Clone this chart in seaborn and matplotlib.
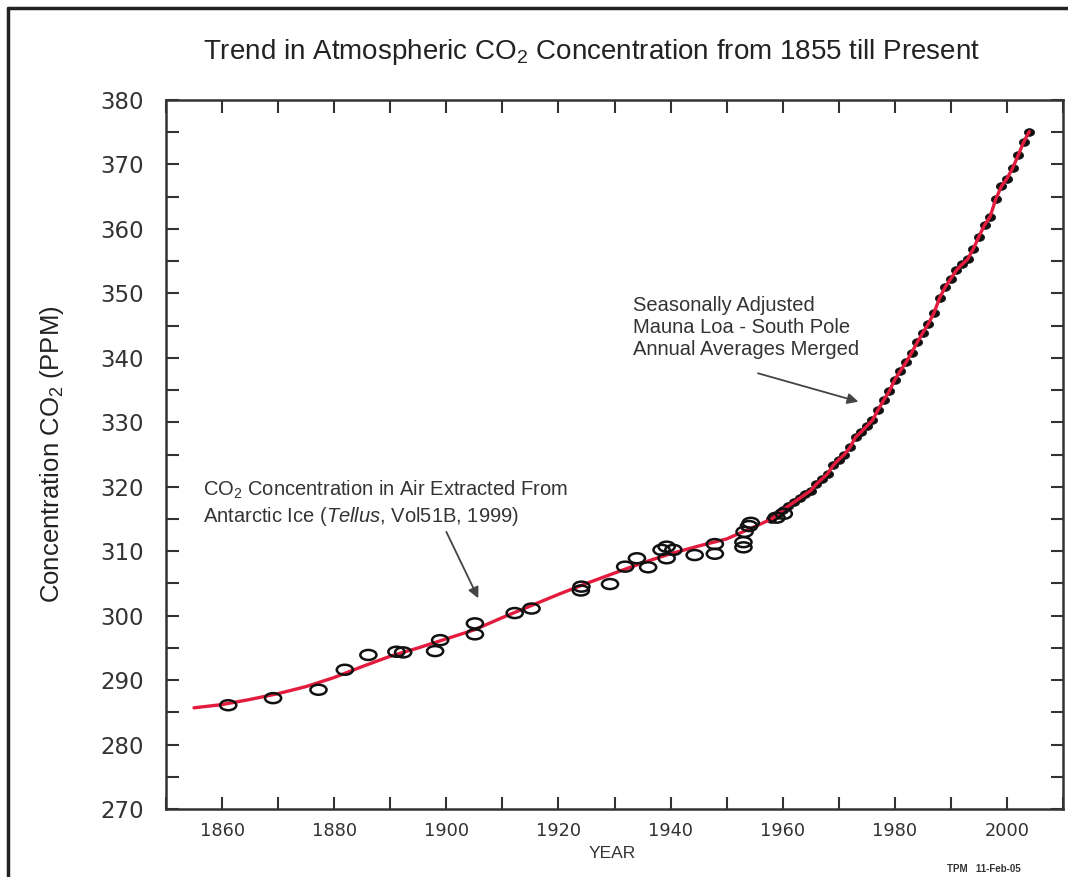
import numpy as np
import pandas as pd
import matplotlib
matplotlib.use("Agg")
import matplotlib.pyplot as plt
import seaborn as sns
from matplotlib.path import Path
from matplotlib.transforms import Affine2D
from matplotlib.lines import Line2D
from matplotlib.ticker import MultipleLocator

# ---------------- data ----------------
# Law Dome ice-core samples (open circles)
ice_years = [1861.1, 1869.1, 1877.2, 1881.9, 1886.1, 1891.1, 1892.3, 1898.0,
             1898.9, 1905.1, 1905.1, 1912.2, 1915.2, 1924.0, 1924.1, 1929.2,
             1931.9, 1934.0, 1936.0, 1938.4, 1939.3, 1939.3, 1940.5, 1944.3,
             1947.9, 1947.9, 1953.0, 1953.0, 1953.2, 1954.0, 1954.3, 1958.9,
             1960.2]
ice_ppm = [286.1, 287.2, 288.5, 291.6, 293.9, 294.4, 294.3, 294.5,
           296.2, 298.8, 297.1, 300.4, 301.1, 303.9, 304.5, 304.9,
           307.6, 308.9, 307.5, 310.2, 310.7, 308.9, 310.2, 309.4,
           311.1, 309.6, 310.6, 311.4, 313.0, 313.9, 314.4, 315.2,
           315.8]

# smoothed ice-core trend (red line, pre-instrumental part)
fit_years = [1855, 1860, 1865, 1870, 1875, 1880, 1885, 1890, 1895, 1900,
             1905, 1910, 1915, 1920, 1925, 1930, 1935, 1940, 1945, 1950, 1955]
fit_ppm = [285.7, 286.2, 287.0, 287.9, 289.0, 290.4, 292.1, 293.7, 295.0, 296.4,
           297.8, 299.7, 301.5, 303.3, 305.0, 306.6, 308.2, 309.6, 310.8, 311.9, 313.8]

# Mauna Loa - South Pole merged annual averages (black dots)
ml_years = list(range(1958, 2005))
ml_ppm = [315.0, 315.6, 316.4, 317.0, 317.6, 318.2, 318.8, 319.4, 320.4, 321.2,
          322.0, 323.3, 324.2, 325.0, 326.1, 327.7, 328.5, 329.4, 330.3, 331.9,
          333.4, 334.8, 336.6, 338.0, 339.3, 340.8, 342.4, 343.9, 345.3, 347.0,
          349.3, 351.0, 352.3, 353.6, 354.5, 355.3, 356.9, 358.8, 360.6, 361.9,
          364.6, 366.6, 367.8, 369.4, 371.4, 373.5, 375.1]

x_ticks = [1860, 1880, 1900, 1920, 1940, 1960, 1980, 2000]
y_ticks = [270, 280, 290, 300, 310, 320, 330, 340, 350, 360, 370, 380]

ice_df = pd.DataFrame({"year": ice_years, "ppm": ice_ppm})
ml_df = pd.DataFrame({"year": ml_years, "ppm": ml_ppm})
trend_df = pd.DataFrame({"year": fit_years + ml_years, "ppm": fit_ppm + ml_ppm})

# ---------------- style ----------------
sns.set_style("ticks")
plt.rcParams["font.family"] = ["Liberation Sans", "DejaVu Sans"]
plt.rcParams["mathtext.fontset"] = "custom"
plt.rcParams["mathtext.rm"] = "Liberation Sans"
plt.rcParams["mathtext.it"] = "Liberation Sans:italic"
plt.rcParams["mathtext.bf"] = "Liberation Sans:bold"

fig = plt.figure(figsize=(10.68, 8.77), dpi=100)
fig.patch.set_facecolor("white")
ax = fig.add_axes([166 / 1068, 1 - 809 / 877, (1063 - 166) / 1068, (809 - 100) / 877])

# elliptical markers (wider than tall, as in the reference)
ellipse = Path.unit_circle().transformed(Affine2D().scale(1.0, 0.62))
dot = Path.unit_circle().transformed(Affine2D().scale(1.0, 0.75))

sns.scatterplot(data=ml_df, x="year", y="ppm", ax=ax, marker=dot, s=55,
                color="#111111", edgecolor="#111111", linewidth=0.5, zorder=3)
sns.lineplot(data=trend_df, x="year", y="ppm", ax=ax, color="#e31b3d",
             linewidth=2.4, zorder=4, sort=True)
sns.scatterplot(data=ice_df, x="year", y="ppm", ax=ax, marker=ellipse, s=135,
                facecolor="none", edgecolor="#111111", linewidth=1.8, zorder=5)

ax.set_xlim(1850, 2010)
ax.set_ylim(270, 380)
ax.set_xticks(x_ticks)
ax.set_yticks(y_ticks)
ax.xaxis.set_minor_locator(MultipleLocator(10))
ax.yaxis.set_minor_locator(MultipleLocator(5))
ax.tick_params(which="both", direction="in", top=True, right=True,
               length=9, width=1.5, color="#333333")
ax.tick_params(axis="x", which="major", labelsize=12.8, pad=9, labelcolor="#333333")
ax.tick_params(axis="y", which="major", labelsize=16.5, pad=16, labelcolor="#333333")
for lab in ax.get_xticklabels() + ax.get_yticklabels():
    lab.set_family("DejaVu Sans")
for sp in ax.spines.values():
    sp.set_visible(True)
    sp.set_linewidth(1.8)
    sp.set_color("#333333")
ax.set_xlabel("")
ax.set_ylabel("")

# titles / axis labels
fig.text(591.5 / 1068, 1 - 52 / 877,
         "Trend in Atmospheric CO$_2$ Concentration from 1855 till Present",
         ha="center", va="center", fontsize=20, color="#222222")
fig.text(52 / 1068, 1 - 454.5 / 877, "Concentration CO$_2$ (PPM)",
         rotation=90, ha="center", va="center", fontsize=18.5, color="#222222")
fig.text(612 / 1068, 1 - 853 / 877, "YEAR", ha="center", va="center",
         fontsize=12.5, color="#333333")
fig.text(984 / 1068, 1 - 869 / 877, "TPM   11-Feb-05", ha="center", va="center",
         fontsize=7, fontweight="bold", color="#333333")

# annotations
ax.text(1856.65, 317.4,
        "CO$_2$ Concentration in Air Extracted From\n"
        "Antarctic Ice ($\\it{Tellus}$, Vol51B, 1999)",
        ha="left", va="center", fontsize=14.5, color="#333333", linespacing=1.2)
ax.annotate("", xy=(1905.7, 302.7), xytext=(1900.0, 313.0),
            arrowprops=dict(arrowstyle="-|>", color="#444444", lw=1.3,
                            mutation_scale=16, shrinkA=0, shrinkB=0))
ax.text(1933.3, 344.7,
        "Seasonally Adjusted\nMauna Loa - South Pole\nAnnual Averages Merged",
        ha="left", va="center", fontsize=14.5, color="#333333", linespacing=1.2)
ax.annotate("", xy=(1973.5, 333.2), xytext=(1955.6, 337.6),
            arrowprops=dict(arrowstyle="-|>", color="#444444", lw=1.3,
                            mutation_scale=16, shrinkA=0, shrinkB=0))

# outer frame lines (top and left)
fig.add_artist(Line2D([8 / 1068, 1.0], [1 - 8 / 877, 1 - 8 / 877],
                      transform=fig.transFigure, color="#222222", lw=2.5))
fig.add_artist(Line2D([8 / 1068, 8 / 1068], [0.0, 1 - 8 / 877],
                      transform=fig.transFigure, color="#222222", lw=2.5))

fig.savefig("out.png", dpi=100, facecolor="white")
